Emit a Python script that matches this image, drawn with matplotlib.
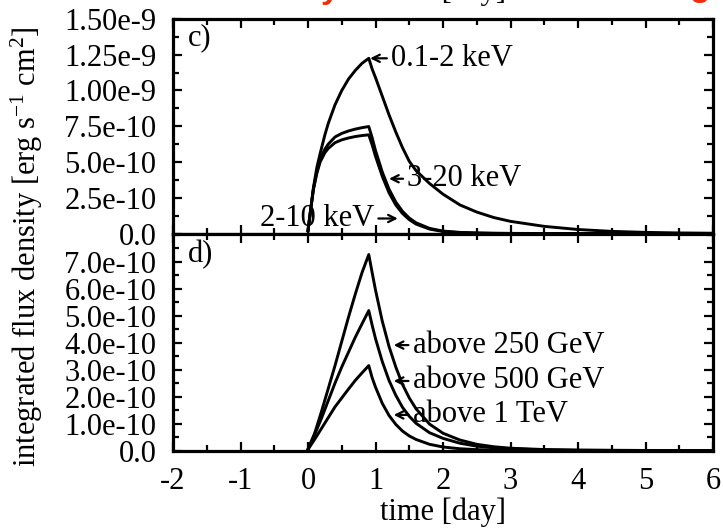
import matplotlib
matplotlib.use("Agg")
import matplotlib.pyplot as plt
from matplotlib.ticker import FixedLocator, MultipleLocator

plt.rcParams["font.family"] = ["Liberation Serif", "DejaVu Serif"]
plt.rcParams["mathtext.fontset"] = "custom"
plt.rcParams["mathtext.rm"] = "Liberation Serif"
plt.rcParams["mathtext.it"] = "Liberation Serif:italic"
plt.rcParams["axes.unicode_minus"] = False

FS = 22

# ---- panel c): X-ray light curves, flux in units of 1e-9 erg/s/cm^2 ----
t_xray = [0, 0.04, 0.08, 0.13, 0.18, 0.25, 0.3, 0.4, 0.5, 0.6, 0.7, 0.8, 0.9,
          0.95, 1.0, 1.1, 1.2, 1.3, 1.4, 1.5, 1.6, 1.8, 2.0, 2.25, 2.5, 2.75,
          3.0, 3.5, 4.0, 4.5, 5.0, 5.5, 6.0]
flux_01_2keV = [0.02, 0.17, 0.32, 0.46, 0.56, 0.69, 0.77, 0.90, 1.00, 1.08, 1.14, 1.19, 1.225,
                1.15, 1.09, 0.96, 0.83, 0.71, 0.60, 0.505, 0.44, 0.35, 0.275, 0.20, 0.15, 0.112,
                0.085, 0.05, 0.028, 0.015, 0.008, 0.004, 0.002]
flux_3_20keV = [0.02, 0.17, 0.31, 0.43, 0.52, 0.59, 0.625, 0.675, 0.70, 0.717, 0.73, 0.74, 0.748,
                0.67, 0.58, 0.43, 0.31, 0.22, 0.155, 0.108, 0.075, 0.036, 0.017, 0.008, 0.004, 0.002,
                0.001, 0.0, 0.0, 0.0, 0.0, 0.0, 0.0]
flux_2_10keV = [0.02, 0.17, 0.31, 0.42, 0.50, 0.565, 0.595, 0.635, 0.655, 0.668, 0.678, 0.685, 0.69,
                0.62, 0.54, 0.40, 0.285, 0.20, 0.14, 0.097, 0.066, 0.031, 0.014, 0.006, 0.003, 0.001,
                0.0005, 0.0, 0.0, 0.0, 0.0, 0.0, 0.0]

# ---- panel d): gamma-ray light curves, flux in units of 1e-10 erg/s/cm^2 ----
t_gamma = [0, 0.1, 0.2, 0.3, 0.4, 0.5, 0.6, 0.7, 0.8, 0.9,
           0.95, 1.0, 1.1, 1.2, 1.3, 1.4, 1.5, 1.6, 1.8, 2.0, 2.25, 2.5, 2.75,
           3.0, 3.5, 4.0, 4.5, 5.0, 5.5, 6.0]
flux_250GeV = [0.05, 0.65, 1.45, 2.3, 3.15, 4.05, 4.95, 5.8, 6.6, 7.27,
               6.6, 5.95, 4.8, 3.86, 3.1, 2.45, 1.95, 1.55, 0.98, 0.64, 0.39, 0.23, 0.14,
               0.085, 0.035, 0.014, 0.006, 0.002, 0.001, 0.0]
flux_500GeV = [0.04, 0.6, 1.2, 1.85, 2.5, 3.1, 3.65, 4.2, 4.7, 5.19,
               4.65, 4.15, 3.3, 2.6, 2.05, 1.6, 1.27, 1.01, 0.66, 0.45, 0.27, 0.16, 0.1,
               0.06, 0.025, 0.01, 0.004, 0.001, 0.0, 0.0]
flux_1TeV = [0.04, 0.42, 0.82, 1.22, 1.62, 1.95, 2.28, 2.6, 2.88, 3.15,
             2.7, 2.35, 1.75, 1.3, 0.97, 0.72, 0.54, 0.41, 0.23, 0.13, 0.065, 0.032, 0.016,
             0.008, 0.002, 0.0, 0.0, 0.0, 0.0, 0.0]

x_ticks = [-2, -1, 0, 1, 2, 3, 4, 5, 6]
x_tick_labels = ["-2", "-1", "0", "1", "2", "3", "4", "5", "6"]
c_ticks = [0, 0.25, 0.5, 0.75, 1.0, 1.25, 1.5]
c_tick_labels = ["0.0", "2.5e-10", "5.0e-10", "7.5e-10", "1.00e-9", "1.25e-9", "1.50e-9"]
d_ticks = [0, 1, 2, 3, 4, 5, 6, 7]
d_tick_labels = ["0.0", "1.0e-10", "2.0e-10", "3.0e-10", "4.0e-10", "5.0e-10", "6.0e-10", "7.0e-10"]

fig = plt.figure(figsize=(7.23, 5.30), dpi=100)
left, width = 0.2393, 0.7469
ax_c = fig.add_axes([left, 0.5594, width, 0.4048])
ax_d = fig.add_axes([left, 0.150, width, 0.4094])

LW = 2.1
for ax in (ax_c, ax_d):
    for s in ax.spines.values():
        s.set_linewidth(2.3)
    ax.set_xlim(-2, 6)
    ax.xaxis.set_major_locator(FixedLocator(x_ticks))
    ax.xaxis.set_minor_locator(MultipleLocator(0.5))
    ax.tick_params(which="both", direction="in", top=True, right=True,
                   width=1.6, labelsize=FS)
    ax.tick_params(which="major", length=6.5)
    ax.tick_params(which="minor", length=4.3)
    ax.tick_params(axis="y", pad=12)
    ax.tick_params(axis="x", pad=12)

# panel c
ax_c.plot(t_xray, flux_01_2keV, color="black", lw=LW)
ax_c.plot(t_xray, flux_3_20keV, color="black", lw=LW)
ax_c.plot(t_xray, flux_2_10keV, color="black", lw=LW)
ax_c.set_ylim(0, 1.5)
ax_c.yaxis.set_major_locator(FixedLocator(c_ticks))
ax_c.yaxis.set_minor_locator(MultipleLocator(0.125))
ax_c.set_yticklabels(c_tick_labels)
ax_c.tick_params(axis="x", labelbottom=False)
ax_c.text(-1.78, 1.37, "c)", fontsize=FS, va="center", ha="left")

arrow = dict(arrowstyle="->", lw=1.6, color="black", mutation_scale=13,
             shrinkA=1, shrinkB=0)
ax_c.annotate("0.1-2 keV", xy=(0.92, 1.225), xytext=(1.23, 1.225),
              fontsize=FS, va="center", ha="left", arrowprops=arrow)
ax_c.annotate("3-20 keV", xy=(1.20, 0.383), xytext=(1.47, 0.383),
              fontsize=FS, va="center", ha="left", arrowprops=arrow)
ax_c.annotate("2-10 keV", xy=(1.33, 0.105), xytext=(0.98, 0.105),
              fontsize=FS, va="center", ha="right", arrowprops=arrow)

# panel d
ax_d.plot(t_gamma, flux_250GeV, color="black", lw=LW)
ax_d.plot(t_gamma, flux_500GeV, color="black", lw=LW)
ax_d.plot(t_gamma, flux_1TeV, color="black", lw=LW)
ax_d.set_ylim(0, 8.05)
ax_d.yaxis.set_major_locator(FixedLocator(d_ticks))
ax_d.yaxis.set_minor_locator(MultipleLocator(0.5))
ax_d.set_yticklabels(d_tick_labels)
ax_d.set_xticklabels(x_tick_labels)
ax_d.text(-1.78, 7.27, "d)", fontsize=FS, va="center", ha="left")
ax_d.annotate("above 250 GeV", xy=(1.27, 3.91), xytext=(1.55, 3.91),
              fontsize=FS, va="center", ha="left", arrowprops=arrow)
ax_d.annotate("above 500 GeV", xy=(1.27, 2.58), xytext=(1.55, 2.58),
              fontsize=FS, va="center", ha="left", arrowprops=arrow)
ax_d.annotate("above 1 TeV", xy=(1.27, 1.32), xytext=(1.55, 1.32),
              fontsize=FS, va="center", ha="left", arrowprops=arrow)

ax_d.set_xlabel("time [day]", fontsize=FS, labelpad=1)
fig.text(0.037, 0.535, r"integrated flux density [erg s$^{\mathrm{-1}}$ cm$^{\mathrm{2}}$]",
         rotation=90, fontsize=FS, ha="center", va="center")

# remnants of the panel above, cut by the top edge
fig.text(443 / 723, 1 + 1 / 530, "time [day]", fontsize=FS, ha="center", va="baseline")
fig.text(330 / 723, 1 + 2 / 530, "y", fontsize=24, color="#f52a0a", fontweight="bold",
         ha="center", va="baseline", family="Liberation Sans")
fig.text(700 / 723, 1 + 4 / 530, "g", fontsize=24, color="#f52a0a", fontweight="bold",
         ha="center", va="baseline", family="Liberation Sans")

fig.savefig("out.png", dpi=100)
